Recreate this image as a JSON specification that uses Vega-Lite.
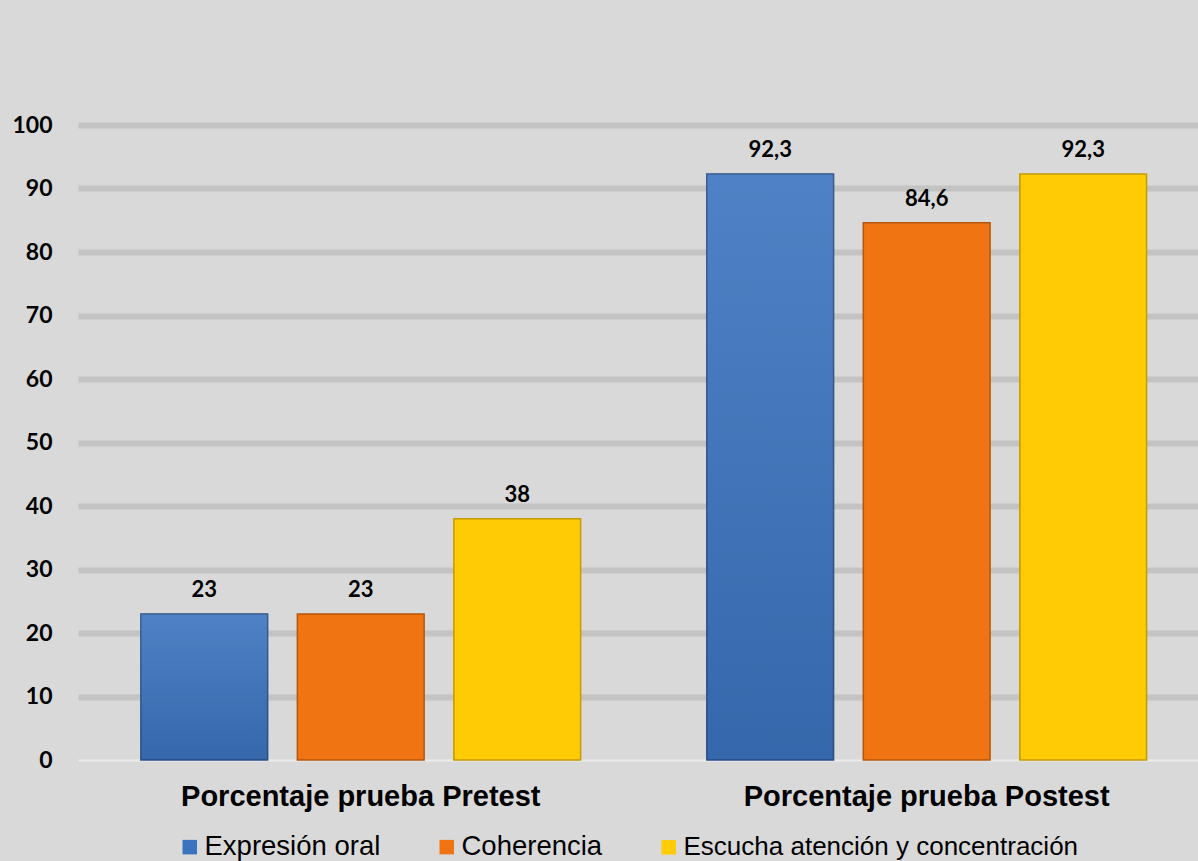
{
  "$schema": "https://vega.github.io/schema/vega-lite/v6.json",
  "autosize": "none",
  "width": 1120,
  "height": 635,
  "padding": {"left": 78, "top": 125, "right": 0, "bottom": 101},
  "background": "#d9d9d9",
  "config": {
    "view": {"stroke": null},
    "locale": {"number": {"decimal": ",", "thousands": ".", "grouping": [3], "currency": ["", " €"]}}
  },
  "data": {
    "values": [
      {"prueba": "Porcentaje prueba Pretest", "serie": "Expresión oral", "valor": 23},
      {"prueba": "Porcentaje prueba Pretest", "serie": "Coherencia", "valor": 23},
      {"prueba": "Porcentaje prueba Pretest", "serie": "Escucha atención y concentración", "valor": 38},
      {"prueba": "Porcentaje prueba Postest", "serie": "Expresión oral", "valor": 92.3},
      {"prueba": "Porcentaje prueba Postest", "serie": "Coherencia", "valor": 84.6},
      {"prueba": "Porcentaje prueba Postest", "serie": "Escucha atención y concentración", "valor": 92.3}
    ]
  },
  "encoding": {
    "x": {
      "field": "prueba",
      "type": "nominal",
      "sort": ["Porcentaje prueba Pretest", "Porcentaje prueba Postest"],
      "scale": {"paddingInner": 0.223, "paddingOuter": 0.101, "align": 0.55},
      "axis": {
        "title": null,
        "labelAngle": 0,
        "ticks": false,
        "domain": false,
        "labelFont": "Liberation Sans",
        "labelFontWeight": "bold",
        "labelFontSize": 29,
        "labelColor": "#000000",
        "labelBaseline": "alphabetic",
        "labelPadding": 45,
        "labelLimit": 0
      }
    },
    "xOffset": {
      "field": "serie",
      "type": "nominal",
      "sort": ["Expresión oral", "Coherencia", "Escucha atención y concentración"],
      "scale": {"paddingInner": 0.19, "paddingOuter": 0}
    },
    "y": {
      "field": "valor",
      "type": "quantitative",
      "scale": {"domain": [0, 100], "nice": false},
      "axis": {
        "title": null,
        "values": [0, 10, 20, 30, 40, 50, 60, 70, 80, 90, 100],
        "ticks": false,
        "domain": false,
        "labelFont": "Lato",
        "labelFontWeight": "bold",
        "labelFontSize": 23,
        "labelColor": "#000000",
        "labelPadding": 26,
        "gridColor": {"condition": {"test": "datum.value === 0", "value": "#ececec"}, "value": "#c3c3c3"},
        "gridWidth": {"condition": {"test": "datum.value === 0", "value": 2}, "value": 6},
        "gridOpacity": 1
      }
    }
  },
  "layer": [
    {
      "mark": {"type": "bar", "strokeWidth": 1.5},
      "encoding": {
        "color": {
          "field": "serie",
          "type": "nominal",
          "sort": ["Expresión oral", "Coherencia", "Escucha atención y concentración"],
          "scale": {"range": ["#3b73bf", "#f07412", "#fecb04"]},
          "legend": {
            "title": null,
            "orient": "none",
            "direction": "horizontal",
            "legendX": 98,
            "legendY": 708,
            "padding": 0,
            "symbolType": "square",
            "symbolSize": 210,
            "symbolStrokeWidth": 0,
            "symbolOpacity": 1,
            "labelFont": "Liberation Sans",
            "labelFontSize": 27.5,
            "labelColor": "#000000",
            "labelOffset": 1,
            "columnPadding": 52,
            "labelLimit": 0,
            "encode": {
              "labels": {
                "update": {
                  "fontSize": {"signal": "datum.label === 'Escucha atención y concentración' ? 26 : 27.5"}
                }
              }
            }
          }
        },
        "stroke": {
          "field": "serie",
          "type": "nominal",
          "sort": ["Expresión oral", "Coherencia", "Escucha atención y concentración"],
          "scale": {"range": ["#2a528a", "#b4560c", "#c49a05"]},
          "legend": null
        }
      }
    },
    {
      "transform": [{"filter": "datum.serie === 'Expresión oral'"}],
      "mark": {
        "type": "bar",
        "color": {
          "gradient": "linear",
          "x1": 0, "y1": 0, "x2": 0, "y2": 1,
          "stops": [
            {"offset": 0, "color": "rgba(255,255,255,0.10)"},
            {"offset": 1, "color": "rgba(0,0,0,0.10)"}
          ]
        },
        "strokeWidth": 0
      },
      "encoding": {}
    },
    {
      "mark": {
        "type": "text",
        "font": "Lato",
        "fontWeight": "bold",
        "fontSize": 22,
        "color": "#000000",
        "baseline": "alphabetic",
        "dy": -17
      },
      "encoding": {
        "text": {"field": "valor", "type": "quantitative", "format": ".1~f"}
      }
    }
  ]
}
